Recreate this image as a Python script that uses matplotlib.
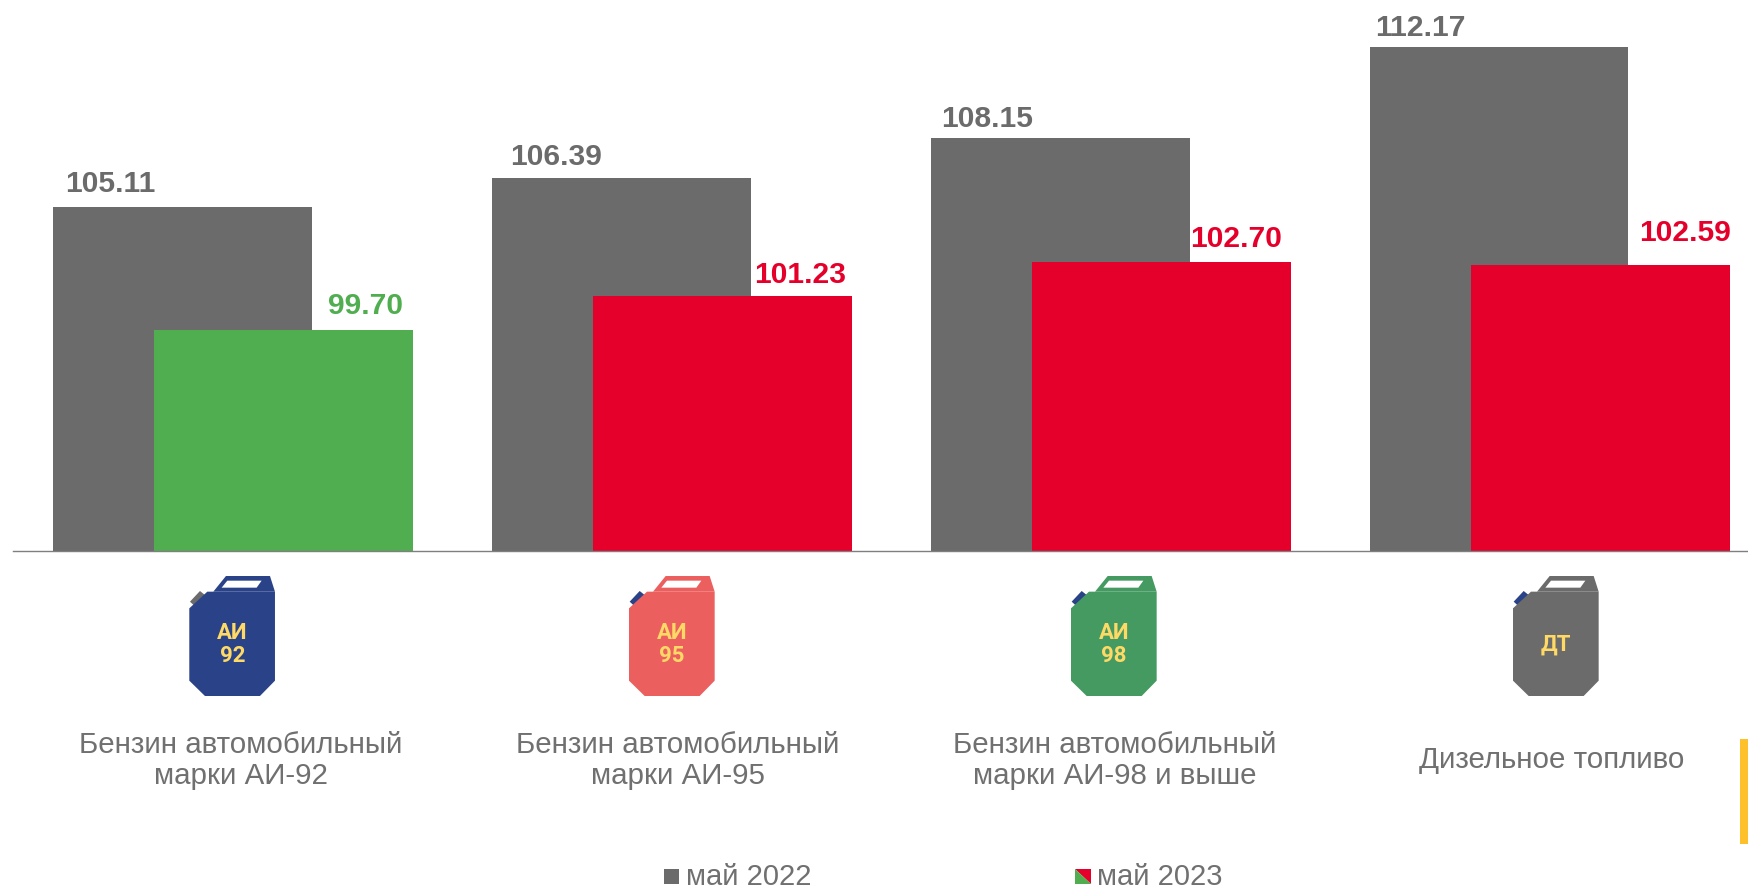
import numpy as np
import matplotlib
matplotlib.use("Agg")
import matplotlib.pyplot as plt
from matplotlib.patches import Polygon, Rectangle

plt.rcParams["font.family"] = ["Liberation Sans", "DejaVu Sans"]

# values
categories = ["Бензин автомобильный\nмарки АИ-92", "Бензин автомобильный\nмарки АИ-95",
              "Бензин автомобильный\nмарки АИ-98 и выше", "Дизельное топливо"]
may_2022 = [105.11, 106.39, 108.15, 112.17]
may_2023 = [99.70, 101.23, 102.70, 102.59]
legend_labels = ["май 2022", "май 2023"]
icon_labels = ["АИ\n92", "АИ\n95", "АИ\n98", "ДТ"]

GRAY = "#6B6B6B"
RED = "#E4002B"
GREEN = "#50AE50"
TEXT = "#707070"
colors_2023 = [GREEN, RED, RED, RED]
icon_colors = ["#2A4287", "#EC5F5F", "#459A62", "#6B6B6B"]
cap_colors = ["#6B6B6B", "#2A4287", "#2A4287", "#2A4287"]
YELLOW = "#FFD966"

W, H = 1749, 889
fig = plt.figure(figsize=(W / 100, H / 100), dpi=100)

# bars
ax = fig.add_axes([13 / W, (H - 551) / H, 1736 / W, 551 / H])
x = np.arange(4)
gray_w = 0.588
red_w = 0.59
gray_shift = 0.114
red_shift = 0.1156
ax.bar(x - gray_shift, may_2022, gray_w, color=GRAY)
ax.bar(x + red_shift, may_2023, red_w, color=colors_2023)
ax.set_xlim(-0.5, 3.4545)
ax.set_ylim(90, 114.22)
ax.set_xticks([])
ax.set_yticks([])
for s in ["top", "left", "right"]:
    ax.spines[s].set_visible(False)
ax.spines["bottom"].set_color("#7F7F7F")
ax.spines["bottom"].set_linewidth(1.0)

# value labels, offsets in pixels from the top-left corner of each bar
gray_dx = [57, 64, 56, 50]
gray_dy = [15.5, 13, 11.5, 10.5]
red_dx = [212, 207, 204, 214]
red_dy = [16.5, 13, 15.5, 24]
for i in range(4):
    ax.annotate(f"{may_2022[i]:.2f}", (x[i] - gray_shift - gray_w / 2, may_2022[i]),
                xytext=(gray_dx[i], gray_dy[i]), textcoords="offset pixels", ha="center", va="baseline",
                fontsize=21.6, fontweight="bold", color=GRAY)
    ax.annotate(f"{may_2023[i]:.2f}", (x[i] + red_shift - red_w / 2, may_2023[i]),
                xytext=(red_dx[i], red_dy[i]), textcoords="offset pixels", ha="center", va="baseline",
                fontsize=21.6, fontweight="bold", color=colors_2023[i], annotation_clip=False)

# overlay in pixel coords for icons, text and legend
ov = fig.add_axes([0, 0, 1, 1], facecolor="none")
ov.set_xlim(0, W)
ov.set_ylim(H, 0)
ov.axis("off")

body = np.array([(118, 145), (172, 95), (375, 95), (375, 362), (330, 408), (165, 408), (118, 362)]) / 3
handle = np.array([(190, 95), (228, 48), (360, 48), (375, 95)]) / 3
hole = np.array([(215, 83), (232, 62), (335, 62), (320, 83)]) / 3
cap = np.array([(120, 125), (150, 93), (165, 105), (133, 137)]) / 3
origin = np.array([118, 0]) / 3


def draw_can(left, color, cap_color, label):
    off = np.array([left, 560]) - origin
    ov.add_patch(Polygon(cap + off, color=cap_color, lw=0))
    ov.add_patch(Polygon(handle + off, color=color, lw=0))
    ov.add_patch(Polygon(hole + off, color="white", lw=0))
    ov.add_patch(Polygon(body + off, color=color, lw=0))
    ov.text(left + 43, 644.5, label, ha="center", va="center", color=YELLOW, fontsize=16,
            fontweight="bold", family=["Roboto", "DejaVu Sans"], linespacing=1.05)


icon_left = [189.3, 629, 1071, 1513]
for i in range(4):
    draw_can(icon_left[i], icon_colors[i], cap_colors[i], icon_labels[i])

cat_x = [241, 678, 1115, 1551.5]
for i in range(4):
    ov.text(cat_x[i], 760.5, categories[i], ha="center", va="center", fontsize=21.25, color=TEXT,
            linespacing=1.14)

# legend
ov.add_patch(Rectangle((664, 869), 15, 15, color=GRAY, lw=0))
ov.text(686, 885, legend_labels[0], ha="left", va="baseline", fontsize=21, color=TEXT)
ov.add_patch(Polygon([(1075, 869), (1091, 869), (1091, 884)], color=RED, lw=0))
ov.add_patch(Polygon([(1075, 869), (1075, 884), (1091, 884)], color=GREEN, lw=0))
ov.text(1097.5, 885, legend_labels[1], ha="left", va="baseline", fontsize=21, color=TEXT)

# yellow strip at the right edge
ov.add_patch(Rectangle((1740, 739), 9, 105, color="#FFC12B", lw=0))

fig.savefig("out.png", dpi=100)
